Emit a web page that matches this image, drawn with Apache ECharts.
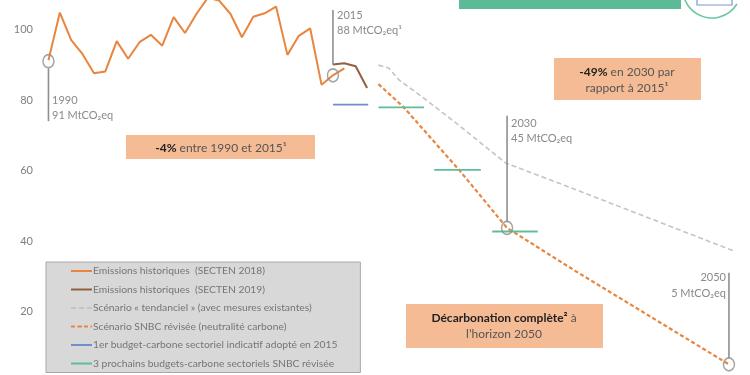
<!DOCTYPE html>
<html>
<head>
<meta charset="utf-8">
<title>Emissions</title>
<script src="https://cdn.jsdelivr.net/npm/echarts@6/dist/echarts.min.js"></script>
<style>
html, body { margin: 0; padding: 0; background: #fff; }
#main { width: 750px; height: 375px; filter: blur(0.7px); }
</style>
</head>
<body>
<div id="main"></div>
<script>
// values, MtCO2eq
var histYears = [1990,1991,1992,1993,1994,1995,1996,1997,1998,1999,2000,2001,2002,2003,2004,2005,2006,2007,2008,2009,2010,2011,2012,2013,2014,2015,2016];
var secten2018 = [91.3,104.8,97,93,87.6,88.1,96.7,91.7,96.4,98.5,95.4,103.5,99,104.4,109,108.2,104.4,97.8,103.6,104.6,106.5,92.8,98.2,100.3,84.3,87,89];
var secten2019Years = [2015,2016,2017,2018];
var secten2019 = [90.1,90.4,89.6,83.4];
var tendancielYears = [2019,2019.9,2020.8,2023.2,2025.8,2030.2,2036.4,2050.2];
var tendanciel = [89.9,89.1,85.7,80,73.5,62.1,54.5,37.2];
var snbcYears = [2019,2021.2,2026.1,2030.3,2036.3,2049.8];
var snbc = [84.5,78,60.1,43.7,31.5,5];
var budget1 = [[2015,78.7],[2018.1,78.7]];
var budgets3 = [[[2019,77.9],[2023,77.9]],[[2023.9,60.2],[2028,60.2]],[[2029,42.7],[2033,42.7]]];
// repères : année, valeur du cercle, extrémités du trait
var markerYears = [1990,2015,2030.3,2049.8];
var markerValues = [91,87,43.7,5];
var markerEnds = [74,105.5,75.5,31];
var markerStarts = [89,90,45.4,6.8];
var yTicks = [20,40,60,80,100];

var names = [
	'Emissions historiques  (SECTEN 2018)',
	'Emissions historiques  (SECTEN 2019)',
	'Scénario « tendanciel » (avec mesures existantes)',
	'Scénario SNBC révisée (neutralité carbone)',
	'1er budget-carbone sectoriel indicatif adopté en 2015',
	'3 prochains budgets-carbone sectoriels SNBC révisée'
];
var ORANGE = '#e9853f', BROWN = '#93603f', GREY = '#c4c4c4', BLUE = '#6f8fcb', GREEN = '#5fbd9a';
var BOX = '#f5bb94', MARK = '#8f8f8f', FONT = 'Lato, sans-serif';

function zip(xs, ys) {
	return xs.map(function (x, i) { return [x, ys[i]]; });
}
function lineSerie(name, data, color, width, dash) {
	return {
		name: name, type: 'line', data: data, showSymbol: false, symbol: 'none',
		lineStyle: { color: color, width: width, type: dash || 'solid', cap: 'butt' },
		itemStyle: { color: color }, silent: true
	};
}

var series = [
	lineSerie(names[0], zip(histYears, secten2018), ORANGE, 2),
	lineSerie(names[1], zip(secten2019Years, secten2019), BROWN, 2),
	lineSerie(names[2], zip(tendancielYears, tendanciel), GREY, 1.6, [5, 3]),
	lineSerie(names[3], zip(snbcYears, snbc), ORANGE, 2.2, [4, 2.5]),
	lineSerie(names[4], budget1, BLUE, 1.8)
];
budgets3.forEach(function (b) {
	series.push(lineSerie(names[5], b, GREEN, 1.8));
});
markerYears.forEach(function (y, i) {
	series.push(lineSerie('trait ' + i, [[y, markerStarts[i]], [y, markerEnds[i]]], MARK, 1.6));
});
series.push({
	name: 'repères', type: 'scatter', data: zip(markerYears, markerValues),
	symbol: 'circle', symbolSize: [11, 13], silent: true, z: 5,
	itemStyle: { color: 'rgba(0,0,0,0)', borderColor: MARK, borderWidth: 1.6 }
});

function note(x, y, text, align) {
	return {
		type: 'text', x: x, y: y, z: 20,
		style: { text: text, fill: '#8a8a8a', font: '11px ' + FONT, align: align || 'left', verticalAlign: 'middle' }
	};
}
function box(x, y, w, h, color) {
	return { type: 'rect', z: 10, shape: { x: x, y: y, width: w, height: h }, style: { fill: color } };
}
function boxText(x, y, text) {
	return {
		type: 'text', x: x, y: y, z: 20,
		style: {
			text: text, align: 'center', verticalAlign: 'middle', fill: '#555',
			font: '12px ' + FONT, lineHeight: 16,
			rich: { b: { fontWeight: 'bold', fontSize: 12, fontFamily: FONT, fill: '#222', color: '#222', lineHeight: 16 } }
		}
	};
}

var option = {
	animation: false,
	backgroundColor: '#fff',
	grid: { left: 38, right: 0, top: 0, height: 382, outerBoundsMode: 'none' },
	xAxis: { type: 'value', min: 1989.08, max: 2051.65, show: false },
	yAxis: {
		type: 'value', min: 0, max: 108.37, interval: 20,
		axisLine: { show: false }, axisTick: { show: false }, splitLine: { show: false },
		axisLabel: {
			margin: 5, color: '#7f7f7f', fontFamily: FONT, fontSize: 11,
			showMinLabel: false, showMaxLabel: false,
			formatter: function (v) { return yTicks.indexOf(v) >= 0 ? v : ''; }
		}
	},
	legend: {
		data: names, orient: 'vertical', left: 46, top: 262, padding: [4, 23, 4, 24],
		backgroundColor: '#d8d8d8', borderColor: '#a9a9a9', borderWidth: 1,
		itemWidth: 21, itemHeight: 2, itemGap: 8.5,
		textStyle: { color: '#757575', fontFamily: FONT, fontSize: 10.3, padding: [0, 0, 0, -4] },
		selectedMode: false
	},
	graphic: [
		box(126, 135, 189, 24, BOX),
		boxText(221, 148, '{b|-4%} entre 1990 et 2015¹'),
		box(554, 58, 147, 42, BOX),
		boxText(627, 80, '{b|-49%} en 2030 par\nrapport à 2015¹'),
		box(406, 304, 197, 44, BOX),
		boxText(504, 326, '{b|Décarbonation complète²} à\nl’horizon 2050'),
		box(459, 0, 222, 9, '#5bbb97'),
		{
			type: 'text', x: 569, y: 2, z: 20,
			style: { text: 'nationales en 2017', align: 'center', verticalAlign: 'bottom', fill: '#444', font: '12px ' + FONT }
		},
		{
			type: 'arc', z: 10,
			shape: { cx: 712, cy: -11.25, r: 29.25, startAngle: 0.55, endAngle: 2.75 },
			style: { stroke: '#6cc5a5', lineWidth: 1.6, fill: 'none' }
		},
		{
			type: 'polyline', z: 10,
			shape: { points: [[697, 0], [697, 5], [732, 5], [732, 0]] },
			style: { stroke: '#7f95d0', lineWidth: 1.2, fill: 'none' }
		},
		note(52, 100, '1990'),
		note(52, 115, '91 MtCO₂eq'),
		note(337, 15, '2015'),
		note(337, 30, '88 MtCO₂eq¹'),
		note(511, 123, '2030'),
		note(511, 138, '45 MtCO₂eq'),
		note(726, 277, '2050', 'right'),
		note(726, 293, '5 MtCO₂eq', 'right')
	],
	series: series
};

var myChart = echarts.init(document.getElementById('main'), null, { renderer: 'canvas' });
myChart.setOption(option);
window.addEventListener('resize', function () {
	myChart.resize();
});
</script>
</body>
</html>
